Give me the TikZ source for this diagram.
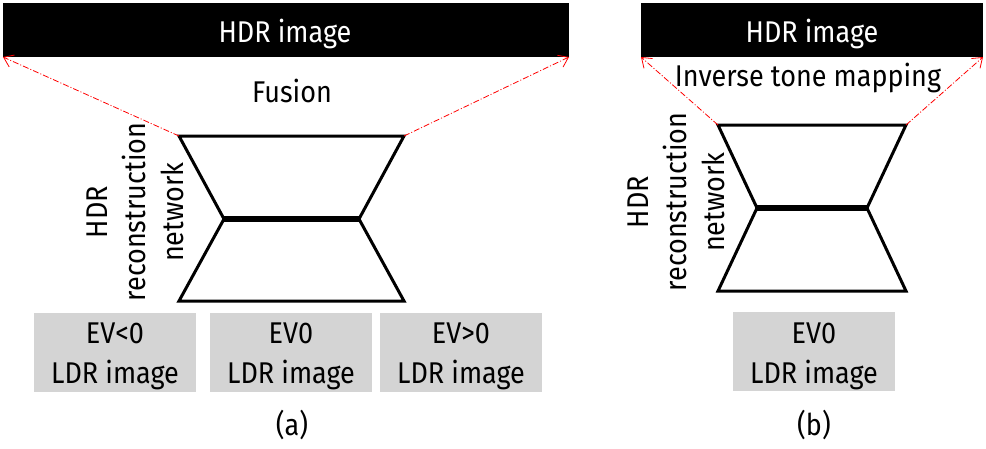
\documentclass[tikz,border=0pt]{standalone}
\usepackage{fontspec}
\setmainfont[FakeStretch=0.9]{Fira Sans}
\usepackage{tikz}
\usetikzlibrary{arrows.meta}

\begin{document}
\begin{tikzpicture}[x=1pt, y=-1pt,
  every node/.style={font=\fontsize{30}{38}\selectfont, inner sep=0pt, outer sep=0pt},
  hdrbar/.style={fill=black, text=white, minimum height=54pt},
  ldrbox/.style={fill=black!17, minimum width=162pt, minimum height=79pt, align=center},
  netline/.style={line width=3pt, line join=miter},
  maparrow/.style={red, line width=0.8pt, dash pattern=on 6pt off 2pt on 1pt off 2pt, -{Straight Barb[length=9pt, width=13pt]}}]
\useasboundingbox (0,0) rectangle (986,448);

% (a)
\node[hdrbar, minimum width=566pt] (hdra) at (286,30) {};
\node[text=white, anchor=base] at (285,42) {HDR image};
\node[anchor=base] (fusion) at (292,102) {Fusion};

\coordinate (a1) at (179,136);
\coordinate (a2) at (404,136);
\coordinate (a3) at (359,219);
\coordinate (a4) at (224,219);
\draw[netline] (a1) -- (a2) -- (a3) -- (a4) -- cycle;
\draw[netline] (a4) -- (179,301) -- (404,301) -- (a3);
\draw[line width=5.5pt] (a4) -- (a3);
\node[rotate=90, align=center] (neta) at (135,212) {HDR\\reconstruction\\network};

\draw[maparrow] (a1) -- (hdra.south west);
\draw[maparrow] (a2) -- (hdra.south east);

\node[ldrbox] (ldrm) at (115,352.5) {};
\node[ldrbox] (ldr0) at (291,352.5) {};
\node[ldrbox] (ldrp) at (461,352.5) {};
\node[anchor=base] at (115,343) {EV<0};
\node[anchor=base] at (115,383) {LDR image};
\node[anchor=base] at (291,343) {EV0};
\node[anchor=base] at (291,383) {LDR image};
\node[anchor=base] at (461,343) {EV>0};
\node[anchor=base] at (461,383) {LDR image};
\node[anchor=base] (capa) at (292,435) {(a)};

% (b)
\node[hdrbar, minimum width=342pt] (hdrb) at (812,30) {};
\node[text=white, anchor=base] at (812,42) {HDR image};
\node[anchor=base] (itm) at (808,86) {Inverse tone mapping};

\coordinate (b1) at (718,125);
\coordinate (b2) at (906,125);
\coordinate (b3) at (867,208);
\coordinate (b4) at (757,208);
\draw[netline] (b1) -- (b2) -- (b3) -- (b4) -- cycle;
\draw[netline] (b4) -- (718,291) -- (906,291) -- (b3);
\draw[line width=5.5pt] (b4) -- (b3);
\node[rotate=90, align=center] (netb) at (676,202) {HDR\\reconstruction\\network};

\draw[maparrow] (b1) -- (hdrb.south west);
\draw[maparrow] (b2) -- (hdrb.south east);

\node[ldrbox] (ldrb) at (814,351) {};
\node[anchor=base] at (814,343) {EV0};
\node[anchor=base] at (814,383) {LDR image};
\node[anchor=base] (capb) at (814,435) {(b)};
\end{tikzpicture}
\end{document}
